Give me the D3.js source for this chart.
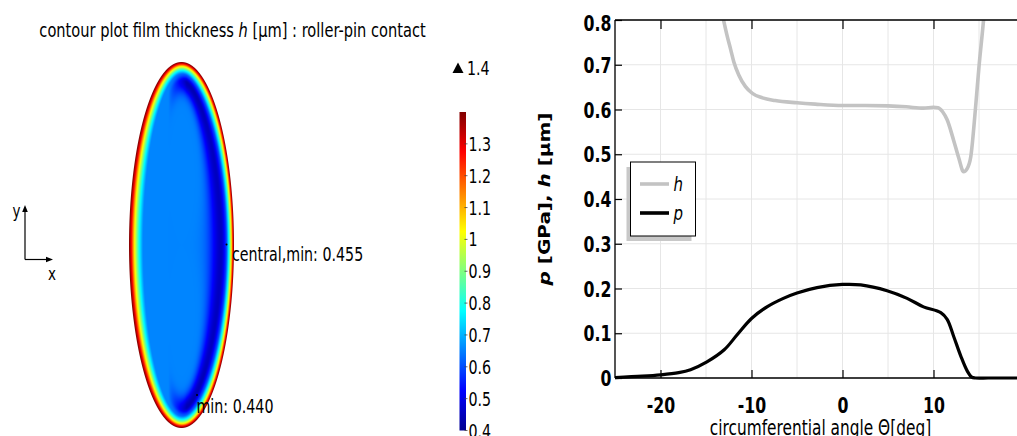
<!DOCTYPE html>
<html>
<head>
<meta charset="utf-8">
<script src="https://cdn.jsdelivr.net/npm/d3@7"></script>
<style>
  html, body { margin: 0; padding: 0; background: #fff; }
  svg { display: block; font-family: "DejaVu Sans", sans-serif; }
</style>
</head>
<body>
<svg id="fig" width="1017" height="436"></svg>
<script>
// ---- centre-line film thickness h [µm] vs circumferential angle [deg]
const thetaH = [-13.5, -13.04, -12.67, -12.3, -11.94, -11.4, -10.66, -9.9, -8.8, -7.4, -5, -3, 0, 2.5, 5, 7, 8.9, 10, 10.5, 11.0, 11.5, 12.2, 12.8, 13.3, 13.7, 14.1, 14.6, 15.0, 15.5, 15.9];
const hValues = [0.84, 0.797, 0.764, 0.735, 0.706, 0.677, 0.651, 0.636, 0.626, 0.620, 0.615, 0.612, 0.609, 0.609, 0.608, 0.606, 0.603, 0.605, 0.604, 0.595, 0.577, 0.532, 0.49, 0.461, 0.468, 0.495, 0.599, 0.696, 0.8, 0.9];

// ---- centre-line pressure p [GPa]
const thetaP = [-25, -22, -20, -18, -16.7, -14.9, -13, -11.6, -10, -8.3, -6.5, -5, -2.8, 0, 2, 4.9, 7.1, 8.9, 10.8, 11.5, 12.2, 13.0, 13.7, 14.2, 14.6, 16, 18, 20];
const pValues = [0.001, 0.004, 0.007, 0.012, 0.0185, 0.036, 0.063, 0.096, 0.133, 0.159, 0.178, 0.190, 0.202, 0.209, 0.208, 0.195, 0.178, 0.159, 0.146, 0.131, 0.094, 0.049, 0.016, 0.002, 0, 0, 0, 0];

// ---- axes
const xDomain = [-25, 20];
const yDomain = [0, 0.8];
const xTickValues = [-20, -10, 0, 10];
const xTickLabels = ["-20", "-10", "0", "10"];
const xGridValues = [-25, -20, -15, -10, -5, 0, 5, 10, 15, 20];
const yTickValues = [0, 0.1, 0.2, 0.3, 0.4, 0.5, 0.6, 0.7, 0.8];
const yTickLabels = ["0", "0.1", "0.2", "0.3", "0.4", "0.5", "0.6", "0.7", "0.8"];
const legendNames = ["h", "p"];

// ---- colour legend of the contour plot
const colorStops = [0.4, 0.525, 0.775, 1.025, 1.275, 1.4];
const colorValues = ["#00008f", "#0000ff", "#00ffff", "#ffff00", "#ff0000", "#800000"];
const colorbarTicks = [0.4, 0.5, 0.6, 0.7, 0.8, 0.9, 1.0, 1.1, 1.2, 1.3];
const colorbarLabels = ["0.4", "0.5", "0.6", "0.7", "0.8", "0.9", "1", "1.1", "1.2", "1.3"];
const colorbarMax = 1.4;
const colorbarMaxLabel = "1.4";

// ---- film thickness field of the contact ellipse
const hPlateau = 0.655;        // flat central film
const hEdge = 1.42;            // thickness at the contact boundary
const rimDepth = [0, 0.14, 0.29, 0.39, 0.54, 0.71, 0.93, 1];   // depth across the rim (fraction of rim width)
const rimShare = [1, 0.84, 0.61, 0.48, 0.32, 0.16, 0.03, 0];   // share of the edge rise left at that depth
const centralMin = 0.455;      // minimum in the outlet constriction at mid-length
const globalMin = 0.440;       // minimum in the side lobes
const minLabels = ["central,min: 0.455", "min: 0.440"];

const SX = 0.75; // horizontal squeeze of all lettering

const svg = d3.select("#fig");

// ====================== contour plot ======================
const color = d3.scaleLinear().domain(colorStops).range(colorValues).clamp(true);

const ell = { cx: 181.5, cy: 245, rx: 52.5, ry: 183 };
const rimWidth = d3.scaleLinear().domain([-1, 0, 1]).range([15, 12, 7]).clamp(true);
const rimScale = d3.scaleLinear().domain(rimDepth).range(rimShare).clamp(true);
const outletWeight = d3.scaleLinear().domain([-0.25, 0.1]).range([0, 1]).clamp(true);
const bandGap = d3.scaleLinear().domain([0, 1]).range([7.5, 4]).clamp(true);   // band centre behind the rim
const bandInner = d3.scaleLinear().domain([0, 1]).range([8.5, 5]).clamp(true);
const bandOuter = d3.scaleLinear().domain([0, 1]).range([4, 3]).clamp(true);
const bandDepth = d3.scaleLinear().domain([0, 0.6, 0.85])
  .range([hPlateau - centralMin, hPlateau - centralMin, hPlateau - globalMin]).clamp(true);

function film(x, y) {
  const X = (x - ell.cx) / ell.rx, Y = (y - ell.cy) / ell.ry;
  const r = Math.hypot(X, Y);
  const g = r > 1e-6 ? Math.hypot((x - ell.cx) / (ell.rx * ell.rx), (y - ell.cy) / (ell.ry * ell.ry)) / r : 1 / ell.rx;
  const d = (1 - r) / g;                       // distance to the contact boundary (px)
  const W = rimWidth(X);
  const delta = d - (W + bandGap(X));
  const s = delta > 0 ? bandInner(X) : bandOuter(X);
  const band = bandDepth(Math.abs(Y)) * outletWeight(X) * Math.exp(-0.5 * (delta / s) * (delta / s));
  const hInt = hPlateau - band;
  const h = hInt + (hEdge - hInt) * rimScale(d / W);
  return { h, d };
}

const box = { x0: 124, y0: 56, w: 116, h: 380 };
const SS = 2;
const canvas = document.createElement("canvas");
canvas.width = box.w * SS; canvas.height = box.h * SS;
const ctx = canvas.getContext("2d");
const img = ctx.createImageData(canvas.width, canvas.height);
for (let j = 0; j < canvas.height; j++) {
  for (let i = 0; i < canvas.width; i++) {
    const x = box.x0 + (i + 0.5) / SS, y = box.y0 + (j + 0.5) / SS;
    const f = film(x, y);
    const a = Math.max(0, Math.min(1, f.d * SS + 0.5));
    const k = (j * canvas.width + i) * 4;
    if (a <= 0) { img.data[k + 3] = 0; continue; }
    const c = d3.rgb(color(f.h));
    img.data[k] = c.r; img.data[k + 1] = c.g; img.data[k + 2] = c.b; img.data[k + 3] = Math.round(a * 255);
  }
}
ctx.putImageData(img, 0, 0);
svg.append("image")
  .attr("x", box.x0).attr("y", box.y0)
  .attr("width", box.w).attr("height", box.h)
  .attr("href", canvas.toDataURL());

function sText(g, x, y, size, anchor) {
  return g.append("text")
    .attr("transform", `translate(${x},${y}) scale(${SX},1)`)
    .attr("font-size", size)
    .attr("text-anchor", anchor || "start")
    .attr("fill", "#000");
}

// title
const title = sText(svg, 232.5, 36.5, 19.5, "middle");
title.append("tspan").text("contour plot film thickness ");
title.append("tspan").attr("font-style", "italic").text("h");
title.append("tspan").text(" [μm] : roller-pin contact");

// minimum markers
const marks = [{ x: 226.5, y: 244.5, tx: 232, ty: 261, t: minLabels[0] },
               { x: 197, y: 395, tx: 196.5, ty: 412.5, t: minLabels[1] }];
marks.forEach(m => {
  svg.append("circle").attr("cx", m.x).attr("cy", m.y).attr("r", 1).attr("fill", "#000");
  sText(svg, m.tx, m.ty, 19).text(m.t);
});

// coordinate triad
const triad = svg.append("g").attr("stroke", "#000").attr("stroke-width", 1.2).attr("fill", "none");
triad.append("path").attr("d", "M25,259.5V210");
triad.append("path").attr("d", "M25,259.5H49");
svg.append("path").attr("d", "M25,205L22.2,212L27.8,212Z").attr("fill", "#000");
svg.append("path").attr("d", "M53,259.5L46,256.7L46,262.3Z").attr("fill", "#000");
sText(svg, 16.5, 217, 18, "middle").text("y");
sText(svg, 52, 280, 18, "middle").text("x");

// colour bar
const cbar = { x: 459.5, w: 6.5, top: 112, bottom: 430.5 };
const cy = d3.scaleLinear().domain([colorStops[0], colorbarMax]).range([cbar.bottom, cbar.top]);
const grad = svg.append("defs").append("linearGradient").attr("id", "jet")
  .attr("x1", 0).attr("y1", 1).attr("x2", 0).attr("y2", 0);
grad.selectAll("stop").data(colorStops).join("stop")
  .attr("offset", d => (d - colorStops[0]) / (colorbarMax - colorStops[0]))
  .attr("stop-color", d => color(d));
svg.append("rect").attr("x", cbar.x).attr("y", cbar.top)
  .attr("width", cbar.w).attr("height", cbar.bottom - cbar.top).attr("fill", "url(#jet)");
svg.append("g").selectAll("line").data(colorbarTicks).join("line")
  .attr("x1", cbar.x + cbar.w - 1.5).attr("x2", cbar.x + cbar.w + 1.5)
  .attr("y1", d => cy(d)).attr("y2", d => cy(d))
  .attr("stroke", "#444").attr("stroke-width", 0.8);
colorbarTicks.forEach((d, i) => sText(svg, 468.5, cy(d) + 7, 19).text(colorbarLabels[i]));
svg.append("path").attr("d", "M458,62.5L463.5,73L452.5,73Z").attr("fill", "#000");
sText(svg, 467, 75, 19).text(colorbarMaxLabel);

// ====================== line graph ======================
const x = d3.scaleLinear().domain(xDomain).range([615, 1024.5]);
const y = d3.scaleLinear().domain(yDomain).range([378, 20]);

const grid = svg.append("g").attr("stroke", "#e6e6e6").attr("stroke-width", 1);
grid.selectAll(".gv").data(xGridValues).join("line")
  .attr("x1", d => x(d)).attr("x2", d => x(d)).attr("y1", y(0.8)).attr("y2", y(0));
grid.selectAll(".gh").data(yTickValues).join("line")
  .attr("x1", x(-25)).attr("x2", 1017).attr("y1", d => y(d)).attr("y2", d => y(d));

svg.append("defs").append("clipPath").attr("id", "plotclip")
  .append("rect").attr("x", 615).attr("y", 20).attr("width", 410).attr("height", 364);

const plot = svg.append("g").attr("clip-path", "url(#plotclip)");
const lineH = d3.line().x(d => x(d[0])).y(d => y(d[1])).curve(d3.curveMonotoneX);
const lineP = d3.line().x(d => x(d[0])).y(d => y(d[1])).curve(d3.curveCatmullRom.alpha(0.5));
plot.append("path").datum(thetaH.map((t, i) => [t, hValues[i]]))
  .attr("d", lineH).attr("fill", "none").attr("stroke", "#c3c3c3").attr("stroke-width", 3.6)
  .attr("stroke-linejoin", "round");

// axes
const axStyle = g => g.attr("font-family", null).attr("font-size", null);
const gB = svg.append("g").attr("transform", `translate(0,${y(0)})`)
  .call(d3.axisBottom(x).tickValues(xTickValues).tickFormat((d, i) => xTickLabels[i]).tickSizeInner(-8).tickSizeOuter(0))
  .call(axStyle);
gB.select(".domain").remove();
gB.selectAll("line").attr("stroke", "#000").attr("stroke-width", 1.2);
gB.selectAll("text").attr("y", null).attr("dy", null)
  .attr("transform", `translate(0,35) scale(${SX},1)`)
  .attr("font-size", 21).attr("font-weight", "bold").attr("fill", "#000");

const gT = svg.append("g").attr("transform", `translate(0,${y(0.8)})`)
  .call(d3.axisTop(x).tickValues(xTickValues).tickFormat("").tickSizeInner(-9).tickSizeOuter(0))
  .call(axStyle);
gT.select(".domain").remove();
gT.selectAll("line").attr("stroke", "#000").attr("stroke-width", 1.2);

const gL = svg.append("g").attr("transform", `translate(${x(-25)},0)`)
  .call(d3.axisLeft(y).tickValues(yTickValues).tickFormat((d, i) => yTickLabels[i]).tickSizeInner(-7).tickSizeOuter(0))
  .call(axStyle);
gL.select(".domain").remove();
gL.selectAll("line").attr("stroke", "#000").attr("stroke-width", 1.2);
gL.selectAll("text").attr("x", null).attr("dy", null)
  .attr("transform", d => `translate(-3.5,${Math.max(y(d) + 7.6, 30) - y(d)}) scale(${SX},1)`)
  .attr("font-size", 21).attr("font-weight", "bold").attr("fill", "#000").attr("text-anchor", "end");

const frame = svg.append("g").attr("stroke", "#000").attr("stroke-width", 1.3);
frame.append("line").attr("x1", x(-25)).attr("x2", 1017).attr("y1", y(0.8)).attr("y2", y(0.8));
frame.append("line").attr("x1", x(-25)).attr("x2", 1017).attr("y1", y(0)).attr("y2", y(0));
frame.append("line").attr("x1", x(-25)).attr("x2", x(-25)).attr("y1", y(0.8)).attr("y2", y(0));

// pressure curve, drawn over the baseline
svg.append("g").attr("clip-path", "url(#plotclip)").append("path")
  .datum(thetaP.map((t, i) => [t, pValues[i]]))
  .attr("d", lineP).attr("fill", "none").attr("stroke", "#000").attr("stroke-width", 3.2)
  .attr("stroke-linejoin", "round");

// axis titles
sText(svg, 820.5, 435, 20.5, "middle").text("circumferential angle Θ[deg]");
const yt = svg.append("text")
  .attr("transform", `translate(550,199) rotate(-90) scale(1,${SX})`)
  .attr("font-size", 20).attr("font-weight", "bold").attr("text-anchor", "middle");
yt.append("tspan").attr("font-style", "italic").text("p");
yt.append("tspan").text(" [GPa], ");
yt.append("tspan").attr("font-style", "italic").text("h");
yt.append("tspan").text(" [μm]");

// legend
const lg = svg.append("g");
lg.append("rect").attr("x", 626.5).attr("y", 167).attr("width", 65).attr("height", 74).attr("fill", "#c8c8c8");
lg.append("rect").attr("x", 630.5).attr("y", 162).attr("width", 65).attr("height", 74)
  .attr("fill", "#fff").attr("stroke", "#000").attr("stroke-width", 1);
const legendColors = ["#c3c3c3", "#000"];
const legendY = [184, 213];
legendNames.forEach((n, i) => {
  lg.append("line").attr("x1", 640).attr("x2", 669).attr("y1", legendY[i]).attr("y2", legendY[i])
    .attr("stroke", legendColors[i]).attr("stroke-width", 3.6);
  sText(lg, 673.5, legendY[i] + 7, 20).attr("font-style", "italic").text(n);
});
</script>
</body>
</html>
